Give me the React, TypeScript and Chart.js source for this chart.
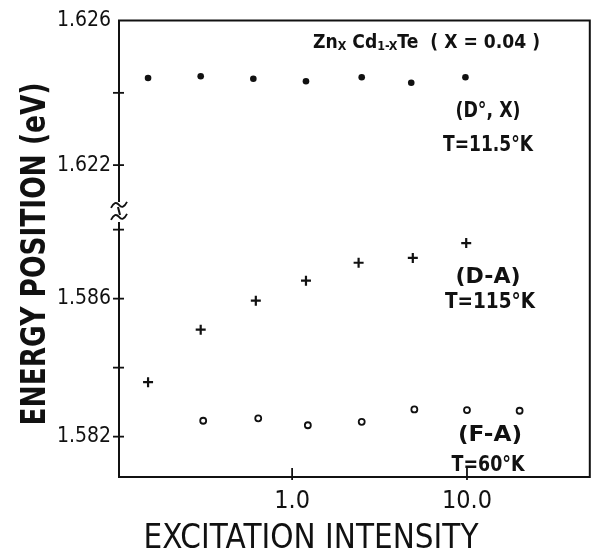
import React, { useEffect, useRef } from "react";
import { Chart, registerables } from "chart.js";

Chart.register(...registerables);

// ---- data ----
const dxIntensity = [0.15, 0.3, 0.6, 1.2, 2.5, 4.8, 9.8];
const dxEnergy = [1.62441, 1.62446, 1.62439, 1.62432, 1.62443, 1.62428, 1.62443];

const daIntensity = [0.15, 0.3, 0.62, 1.2, 2.4, 4.9, 9.9];
const daEnergy = [1.58358, 1.5851, 1.58594, 1.58652, 1.58704, 1.58718, 1.58761];

const faIntensity = [0.31, 0.64, 1.23, 2.5, 5.0, 10, 20];
const faEnergy = [1.58246, 1.58253, 1.58233, 1.58243, 1.58279, 1.58277, 1.58275];

const xTickValues = [1, 10];
const xTickLabels = ["1.0", "10.0"];
const yLowerTicks = [1.582, 1.584, 1.586, 1.588];
const yLowerLabels = ["1.582", "", "1.586", ""];
const yUpperTicks = [1.622, 1.624, 1.626];
const yUpperLabels = ["1.622", "", "1.626"];

const INK = "#111";
const NARROW = "'DejaVu Sans Condensed', 'Liberation Sans Narrow', 'DejaVu Sans', sans-serif";
const SANS = "'DejaVu Sans', 'Liberation Sans', sans-serif";

function fitText(ctx: CanvasRenderingContext2D, text: string, cx: number, cy: number, size: number, weight: string, width: number, rotate = false) {
  ctx.save();
  ctx.font = `${weight} ${size}px ${SANS}`;
  const w = ctx.measureText(text).width;
  ctx.translate(cx, cy);
  if (rotate) ctx.rotate(-Math.PI / 2);
  ctx.scale(width / w, 1);
  ctx.textAlign = "center";
  ctx.textBaseline = "alphabetic";
  ctx.fillStyle = INK;
  ctx.fillText(text, 0, size * 0.36);
  ctx.restore();
}

function squiggle(ctx: CanvasRenderingContext2D, cx: number, cy: number) {
  ctx.beginPath();
  ctx.moveTo(cx - 8, cy + 3);
  ctx.quadraticCurveTo(cx - 4, cy - 5, cx, cy);
  ctx.quadraticCurveTo(cx + 4, cy + 5, cx + 8, cy - 3);
  ctx.stroke();
}

const decor = {
  id: "decor",
  afterDraw(chart: any) {
    const { ctx, chartArea: ca, scales } = chart;
    const xs = scales.x;
    const yl = scales.y;
    const yu = scales.y2;
    ctx.save();
    ctx.strokeStyle = INK;
    ctx.lineWidth = 2;
    ctx.lineCap = "butt";
    const brk = yu.bottom;
    // frame
    ctx.beginPath();
    ctx.moveTo(ca.left, brk - 16);
    ctx.lineTo(ca.left, ca.top);
    ctx.lineTo(ca.right, ca.top);
    ctx.lineTo(ca.right, ca.bottom);
    ctx.lineTo(ca.left, ca.bottom);
    ctx.lineTo(ca.left, brk + 4);
    ctx.stroke();
    ctx.beginPath();
    ctx.moveTo(ca.left - 1, brk - 11);
    ctx.lineTo(ca.left + 1, brk - 3);
    ctx.stroke();
    ctx.lineWidth = 1.8;
    squiggle(ctx, ca.left, brk - 13);
    squiggle(ctx, ca.left, brk - 1);
    ctx.lineWidth = 1.8;
    // y ticks
    const yt = (s: any, v: number) => {
      const p = s.getPixelForValue(v);
      ctx.beginPath();
      ctx.moveTo(ca.left - 6, p);
      ctx.lineTo(ca.left + 5, p);
      ctx.stroke();
    };
    yLowerTicks.forEach((v) => yt(yl, v));
    yUpperTicks.forEach((v) => { if (v < yu.max - 1e-9) yt(yu, v); });
    // x ticks
    xTickValues.forEach((v) => {
      const p = xs.getPixelForValue(v);
      ctx.beginPath();
      ctx.moveTo(p, ca.bottom + 3);
      ctx.lineTo(p, ca.bottom - 9);
      ctx.stroke();
    });

    // title with subscripts
    const pieces: [string, boolean][] = [["Zn", false], ["X", true], [" Cd", false], ["1-X", true], ["Te  ( X = 0.04 )", false]];
    const fs = 20, sub = 13;
    let total = 0;
    const widths = pieces.map(([t, s]) => {
      ctx.font = `bold ${s ? sub : fs}px ${SANS}`;
      const w = ctx.measureText(t).width;
      total += w;
      return w;
    });
    const left = 313, target = 227, base = 48;
    const k = target / total;
    ctx.save();
    ctx.translate(left, base);
    ctx.scale(k, 1);
    ctx.fillStyle = INK;
    ctx.textAlign = "left";
    ctx.textBaseline = "alphabetic";
    let xx = 0;
    pieces.forEach(([t, s], i) => {
      ctx.font = `bold ${s ? sub : fs}px ${SANS}`;
      ctx.fillText(t, xx, s ? 2 : 0);
      xx += widths[i];
    });
    ctx.restore();

    // series annotations
    fitText(ctx, "(D°, X)", 488, 109, 21, "bold", 65);
    fitText(ctx, "T=11.5°K", 488, 143, 21, "bold", 90);
    fitText(ctx, "(D-A)", 488, 275, 21, "bold", 65);
    fitText(ctx, "T=115°K", 490, 300, 21, "bold", 90);
    fitText(ctx, "(F-A)", 490, 433, 21, "bold", 64);
    fitText(ctx, "T=60°K", 488, 463, 21, "bold", 73);

    // axis titles
    fitText(ctx, "ENERGY POSITION (eV)", 33, 254, 34, "bold", 343, true);
    fitText(ctx, "EXCITATION INTENSITY", 311, 536, 34, "normal", 335);
    ctx.restore();
  },
};

export default function App() {
  const ref = useRef<HTMLCanvasElement | null>(null);
  useEffect(() => {
    document.body.style.margin = "0";
    const canvas = ref.current;
    if (!canvas) return;
    const tickFontY = { family: NARROW, size: 21 };
    const tickFontX = { family: NARROW, size: 25 };
    const chart = new Chart(canvas, {
      type: "scatter",
      data: {
        datasets: [
          {
            label: "(D°, X)",
            data: dxIntensity.map((x, i) => ({ x, y: dxEnergy[i] })),
            yAxisID: "y2",
            pointStyle: "circle",
            pointRadius: 3.3,
            backgroundColor: INK,
            borderColor: INK,
            borderWidth: 0,
          },
          {
            label: "(D-A)",
            data: daIntensity.map((x, i) => ({ x, y: daEnergy[i] })),
            yAxisID: "y",
            pointStyle: "cross",
            pointRadius: 5,
            borderColor: INK,
            borderWidth: 2.2,
          },
          {
            label: "(F-A)",
            data: faIntensity.map((x, i) => ({ x, y: faEnergy[i] })),
            yAxisID: "y",
            pointStyle: "circle",
            pointRadius: 3,
            backgroundColor: "#fff",
            borderColor: INK,
            borderWidth: 1.8,
          },
        ],
      },
      options: {
        responsive: false,
        animation: false,
        layout: { padding: { top: 19, right: 4, left: 0, bottom: 0 } },
        plugins: { legend: { display: false }, tooltip: { enabled: false } },
        scales: {
          x: {
            type: "logarithmic",
            position: "bottom",
            min: 0.1023,
            max: 50.4,
            grid: { display: false, drawTicks: false },
            border: { display: false },
            afterBuildTicks: (s: any) => {
              s.ticks = xTickValues.map((v) => ({ value: v }));
            },
            afterFit: (s: any) => {
              s.height = 79;
            },
            ticks: {
              autoSkip: false,
              maxRotation: 0,
              padding: 9,
              color: INK,
              font: tickFontX,
              callback: (_v: any, i: number) => xTickLabels[i],
            },
          },
          y: {
            type: "linear",
            position: "left",
            stack: "energy",
            stackWeight: 260,
            min: 1.58083,
            max: 1.58834,
            grid: { display: false, drawTicks: false },
            border: { display: false },
            afterBuildTicks: (s: any) => {
              s.ticks = yLowerTicks.map((v) => ({ value: v }));
            },
            afterFit: (s: any) => {
              s.width = 119;
            },
            ticks: {
              autoSkip: false,
              padding: 8,
              color: INK,
              font: tickFontY,
              callback: (_v: any, i: number) => yLowerLabels[i],
            },
          },
          y2: {
            type: "linear",
            position: "left",
            stack: "energy",
            stackWeight: 198,
            min: 1.620538,
            max: 1.626,
            grid: { display: false, drawTicks: false },
            border: { display: false },
            afterBuildTicks: (s: any) => {
              s.ticks = yUpperTicks.map((v) => ({ value: v }));
            },
            afterFit: (s: any) => {
              s.width = 119;
            },
            ticks: {
              autoSkip: false,
              padding: 8,
              color: INK,
              font: tickFontY,
              callback: (_v: any, i: number) => yUpperLabels[i],
            },
          },
        },
      } as any,
      plugins: [decor],
    });
    return () => chart.destroy();
  }, []);
  return (
    <div style={{ width: 597, height: 556, background: "#fff" }}>
      <canvas ref={ref} width={597} height={556} style={{ display: "block" }} />
    </div>
  );
}
